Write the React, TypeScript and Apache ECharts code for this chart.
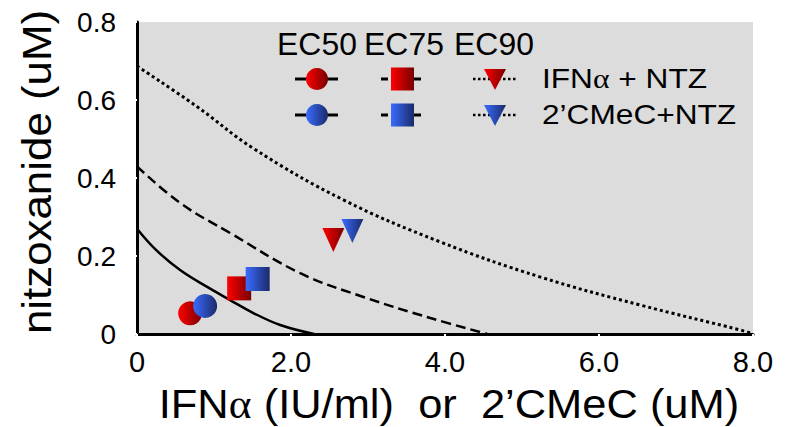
import React, { useEffect, useRef } from "react";
import * as echarts from "echarts";

// Isobologram curves (x: IFNα or 2'CMeC, y: nitazoxanide)
const ec50Curve: number[][] = [
  [0, 0.27], [0.25, 0.215], [0.56, 0.164], [0.9, 0.122], [1.21, 0.087],
  [1.5, 0.055], [1.86, 0.023], [2.3, 0],
];
const ec75Curve: number[][] = [
  [0, 0.43], [0.56, 0.336], [1.21, 0.259], [2.12, 0.156], [2.94, 0.095],
  [3.81, 0.041], [4.55, 0],
];
const ec90Curve: number[][] = [
  [0, 0.687], [0.78, 0.583], [1.51, 0.476], [2.68, 0.344], [3.94, 0.236],
  [5.24, 0.146], [6.54, 0.074], [7.84, 0.01], [8, 0],
];

// Experimental combination points: EC50, EC75, EC90
const ifnNtzPoints: number[][] = [[0.69, 0.053], [1.327, 0.117], [2.55, 0.241]];
const cmecNtzPoints: number[][] = [[0.885, 0.072], [1.567, 0.141], [2.797, 0.264]];

const xTickLabels = ["0", "2.0", "4.0", "6.0", "8.0"];
const yTickLabels = ["0", "0.2", "0.4", "0.6", "0.8"];
const ecLabels = ["EC50", "EC75", "EC90"];
const seriesLabels = ["IFN{a|α} + NTZ", "2’CMeC+NTZ"];

const FONT = "'Liberation Sans', Arial, Helvetica, sans-serif";
const SERIF = "'Liberation Serif', 'DejaVu Serif', serif";

const grad = (c1: string, c2: string) => ({
  type: "linear",
  x: 0, y: 0, x2: 1, y2: 0,
  colorStops: [
    { offset: 0, color: c1 },
    { offset: 1, color: c2 },
  ],
});
const RED = ["#ff0000", "#760000"];
const BLUE = ["#3a6cff", "#1a2a6a"];

const TRI_DOWN = "path://M0 0L22 0L11 24Z";

function makePoints(points: number[][], colors: string[]) {
  return points.map((p, i) => {
    const item: any = {
      value: p,
      itemStyle: { color: grad(colors[0], colors[1]) as any, opacity: 1 },
    };
    if (i === 0) {
      item.symbol = "circle";
      item.symbolSize = 24;
    } else if (i === 1) {
      item.symbol = "rect";
      item.symbolSize = 24;
    } else {
      item.symbol = TRI_DOWN;
      item.symbolSize = [22, 24];
    }
    return item;
  });
}

export default function App() {
  const ref = useRef<HTMLDivElement>(null);

  useEffect(() => {
    if (!ref.current) return;
    const chart = echarts.init(ref.current, undefined, { renderer: "svg" });

    const legendRowY = [79, 115];
    const ecLabelX = [317, 404, 494];
    const legendGraphics: any[] = [];
    ecLabels.forEach((t, i) => {
      legendGraphics.push({
        type: "text",
        x: ecLabelX[i],
        y: 45,
        scaleX: 1.03,
        style: {
          text: t, fontSize: 31, fontFamily: FONT, fill: "#000",
          align: "center", verticalAlign: "middle",
        },
        z: 100,
      });
    });
    legendRowY.forEach((ry, r) => {
      const cols = r === 0 ? RED : BLUE;
      // EC50 key: solid line + circle
      legendGraphics.push({
        type: "line",
        shape: { x1: 295, y1: ry, x2: 338, y2: ry },
        style: { stroke: "#000", lineWidth: 3 },
        z: 100,
      });
      legendGraphics.push({
        type: "circle",
        shape: { cx: 317, cy: ry, r: 11 },
        style: { fill: grad(cols[0], cols[1]) },
        z: 101,
      });
      // EC75 key: dashed line + square
      legendGraphics.push({
        type: "line",
        shape: { x1: 381, y1: ry, x2: 424, y2: ry },
        style: { stroke: "#000", lineWidth: 3, lineDash: [7, 4] },
        z: 100,
      });
      legendGraphics.push({
        type: "rect",
        shape: { x: 391, y: ry - 11.5, width: 23, height: 23 },
        style: { fill: grad(cols[0], cols[1]) },
        z: 101,
      });
      // EC90 key: dotted line + down triangle
      legendGraphics.push({
        type: "line",
        shape: { x1: 473, y1: ry, x2: 516, y2: ry },
        style: { stroke: "#000", lineWidth: 2.5, lineDash: [2.5, 2.5] },
        z: 100,
      });
      legendGraphics.push({
        type: "polygon",
        shape: { points: [[484, ry - 10], [506, ry - 10], [495, ry + 11]] },
        style: { fill: grad(cols[0], cols[1]) },
        z: 101,
      });
      legendGraphics.push({
        type: "text",
        x: 542,
        y: ry - 1,
        scaleX: 1.13,
        style: {
          text: seriesLabels[r], fontSize: 28, fontFamily: FONT, fill: "#000",
          align: "left", verticalAlign: "middle",
          rich: { a: { fontSize: 28, fontFamily: SERIF, fill: "#000" } },
        },
        z: 100,
      });
    });

    const option: any = {
      animation: false,
      textStyle: { fontFamily: FONT },
      grid: {
        left: 137, right: 38, top: 22, bottom: 93,
        show: true, backgroundColor: "#dcdcdc", borderWidth: 0,
      },
      xAxis: {
        type: "value", min: 0, max: 8, interval: 2,
        axisLine: { show: true, onZero: false, lineStyle: { color: "#000", width: 3 } },
        axisTick: { show: true, length: 3, lineStyle: { color: "#fff", width: 2 } },
        splitLine: { show: false },
        axisLabel: {
          fontSize: 29, color: "#000", margin: 13, fontFamily: FONT,
          formatter: (v: number) => xTickLabels[Math.round(v / 2)],
        },
      },
      yAxis: {
        type: "value", min: 0, max: 0.8, interval: 0.2,
        axisLine: { show: true, onZero: false, lineStyle: { color: "#000", width: 3 } },
        axisTick: { show: true, length: 3, lineStyle: { color: "#fff", width: 2 } },
        splitLine: { show: false },
        axisLabel: {
          fontSize: 28, color: "#000", margin: 21, fontFamily: FONT,
          formatter: (v: number) => yTickLabels[Math.round(v / 0.2)],
        },
      },
      series: [
        {
          type: "line", data: ec50Curve, smooth: 0.4, showSymbol: false,
          lineStyle: { color: "#000", width: 2.5, type: "solid" }, z: 2,
        },
        {
          type: "line", data: ec75Curve, smooth: 0.4, showSymbol: false,
          lineStyle: { color: "#000", width: 2.5, type: [10, 5] }, z: 2,
        },
        {
          type: "line", data: ec90Curve, smooth: 0.4, showSymbol: false,
          lineStyle: { color: "#000", width: 3, type: [3, 3] }, z: 2,
        },
        { type: "scatter", data: makePoints(ifnNtzPoints, RED), z: 3 },
        { type: "scatter", data: makePoints(cmecNtzPoints, BLUE), z: 4 },
      ],
      graphic: [
        ...legendGraphics,
        {
          type: "text",
          x: 449,
          y: 404,
          scaleX: 1.06,
          style: {
            text: "IFN{a|α} (IU/ml)  or  2’CMeC (uM)",
            fontSize: 41, fontFamily: FONT, fill: "#000",
            align: "center", verticalAlign: "middle",
            rich: { a: { fontSize: 41, fontFamily: SERIF, fill: "#000" } },
          },
        },
        {
          type: "text",
          x: 37,
          y: 172,
          rotation: Math.PI / 2,
          scaleX: 1.07,
          style: {
            text: "nitzoxanide (uM)",
            fontSize: 41, fontFamily: FONT, fill: "#000",
            align: "center", verticalAlign: "middle",
          },
        },
      ],
    };

    chart.setOption(option);
    return () => chart.dispose();
  }, []);

  return (
    <div
      ref={ref}
      style={{ position: "absolute", left: 0, top: 0, width: 791, height: 427, background: "#fff" }}
    />
  );
}
